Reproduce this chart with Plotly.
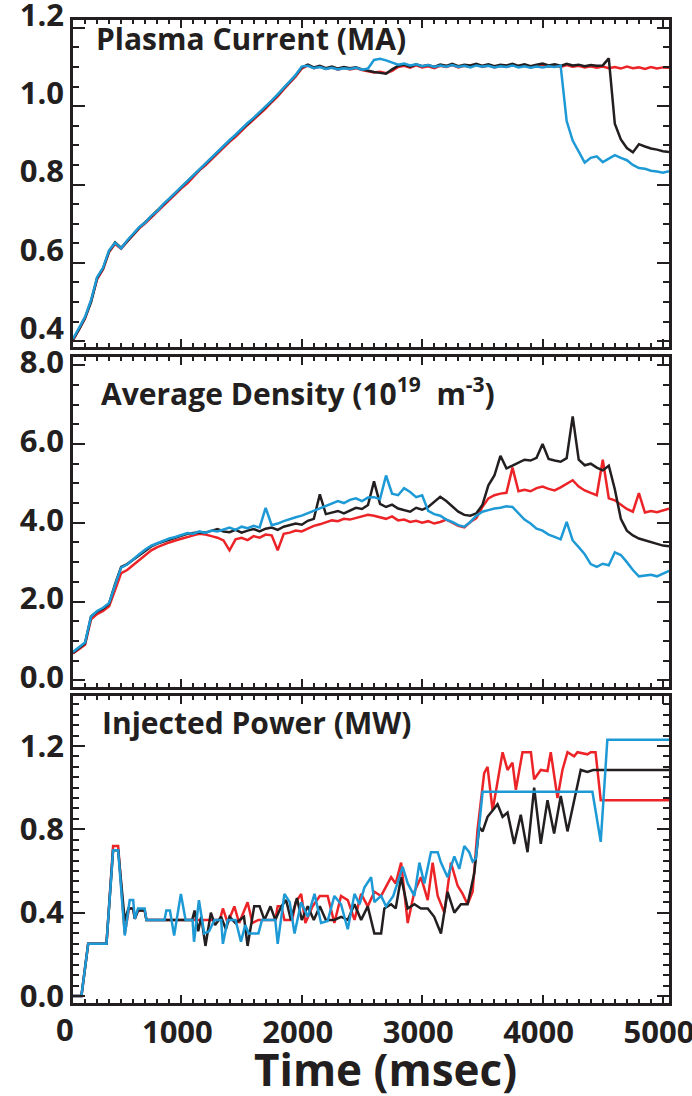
import plotly.graph_objects as go

# ---------------- data ----------------
T = list(range(100, 5051, 50))

IP_RED = [0.402, 0.432, 0.458, 0.503, 0.558, 0.584, 0.628, 0.648, 0.636, 0.654,
          0.670, 0.688, 0.701, 0.716, 0.729, 0.746, 0.760, 0.774, 0.790, 0.803,
          0.820, 0.836, 0.849, 0.864, 0.880, 0.893, 0.909, 0.922, 0.938, 0.952,
          0.966, 0.979, 0.994, 1.010, 1.025, 1.043, 1.060, 1.076, 1.096, 1.104,
          1.097, 1.101, 1.095, 1.099, 1.093, 1.098, 1.094, 1.097, 1.092, 1.089,
          1.086, 1.088, 1.084, 1.090, 1.100, 1.103, 1.098, 1.104, 1.099, 1.102,
          1.097, 1.103, 1.100, 1.105, 1.099, 1.103, 1.101, 1.106, 1.100, 1.104,
          1.099, 1.103, 1.100, 1.105, 1.101, 1.104, 1.099, 1.103, 1.106, 1.101,
          1.104, 1.100, 1.105, 1.101, 1.103, 1.099, 1.102, 1.098, 1.101, 1.097,
          1.100, 1.096, 1.101, 1.097, 1.099, 1.095, 1.100, 1.096, 1.099, 1.098]
IP_BLACK = [0.404, 0.430, 0.460, 0.500, 0.561, 0.586, 0.630, 0.652, 0.638, 0.656,
            0.672, 0.690, 0.704, 0.719, 0.733, 0.749, 0.763, 0.778, 0.793, 0.807,
            0.823, 0.839, 0.853, 0.867, 0.883, 0.897, 0.912, 0.926, 0.941, 0.956,
            0.969, 0.983, 0.997, 1.013, 1.029, 1.046, 1.063, 1.079, 1.099, 1.106,
            1.099, 1.103, 1.097, 1.101, 1.096, 1.100, 1.097, 1.099, 1.094, 1.090,
            1.087, 1.085, 1.083, 1.094, 1.103, 1.106, 1.101, 1.107, 1.102, 1.105,
            1.100, 1.106, 1.103, 1.108, 1.102, 1.106, 1.104, 1.108, 1.103, 1.107,
            1.102, 1.106, 1.104, 1.108, 1.103, 1.107, 1.102, 1.106, 1.109, 1.104,
            1.107, 1.103, 1.108, 1.104, 1.106, 1.102, 1.105, 1.103, 1.104, 1.122,
            0.955, 0.915, 0.893, 0.882, 0.903, 0.897, 0.892, 0.889, 0.885, 0.883]
IP_BLUE = [0.406, 0.434, 0.462, 0.505, 0.563, 0.588, 0.632, 0.651, 0.637, 0.657,
           0.673, 0.691, 0.703, 0.720, 0.732, 0.750, 0.764, 0.779, 0.795, 0.808,
           0.824, 0.840, 0.854, 0.869, 0.884, 0.898, 0.913, 0.927, 0.943, 0.957,
           0.970, 0.984, 0.999, 1.014, 1.030, 1.047, 1.064, 1.080, 1.101, 1.103,
           1.097, 1.100, 1.095, 1.098, 1.094, 1.097, 1.095, 1.098, 1.093, 1.096,
           1.118, 1.121, 1.117, 1.112, 1.106, 1.109, 1.104, 1.107, 1.102, 1.105,
           1.100, 1.104, 1.101, 1.105, 1.100, 1.103, 1.099, 1.104, 1.101, 1.103,
           1.099, 1.102, 1.100, 1.104, 1.099, 1.102, 1.098, 1.101, 1.099, 1.102,
           1.100, 1.103, 0.962, 0.912, 0.884, 0.856, 0.868, 0.872, 0.857, 0.866,
           0.875, 0.868, 0.862, 0.850, 0.842, 0.840, 0.835, 0.833, 0.830, 0.834]

NE_RED = [0.68, 0.80, 0.90, 1.55, 1.68, 1.76, 1.88, 2.30, 2.72, 2.80,
          2.92, 3.05, 3.18, 3.30, 3.38, 3.45, 3.50, 3.55, 3.60, 3.65,
          3.68, 3.72, 3.70, 3.66, 3.62, 3.55, 3.30, 3.58, 3.62, 3.56,
          3.66, 3.62, 3.70, 3.68, 3.30, 3.72, 3.75, 3.80, 3.78, 3.85,
          3.92, 3.96, 4.02, 4.06, 4.04, 4.10, 4.08, 4.12, 4.16, 4.20,
          4.18, 4.14, 4.10, 4.16, 4.06, 4.08, 4.02, 4.05, 4.00, 4.04,
          3.98, 4.02, 4.08, 4.00, 3.92, 3.88, 4.02, 4.12, 4.40, 4.62,
          4.70, 4.74, 4.76, 5.40, 4.80, 4.84, 4.80, 4.88, 4.92, 4.86,
          4.82, 4.90, 4.98, 5.08, 4.92, 4.82, 4.76, 4.70, 5.60, 4.62,
          4.57, 4.45, 4.35, 4.28, 4.75, 4.26, 4.30, 4.27, 4.32, 4.36]
NE_BLACK = [0.70, 0.82, 0.94, 1.62, 1.74, 1.82, 1.95, 2.45, 2.88, 2.95,
            3.06, 3.18, 3.30, 3.40, 3.47, 3.52, 3.58, 3.63, 3.68, 3.72,
            3.74, 3.76, 3.75, 3.80, 3.84, 3.78, 3.76, 3.82, 3.75, 3.80,
            3.84, 3.78, 3.85, 3.88, 3.82, 3.90, 3.94, 3.98, 3.95, 4.05,
            4.10, 4.72, 4.22, 4.26, 4.30, 4.24, 4.32, 4.38, 4.35, 4.45,
            5.05, 4.48, 4.40, 4.46, 4.36, 4.32, 4.28, 4.38, 4.33, 4.40,
            4.52, 4.66, 4.55, 4.42, 4.28, 4.20, 4.18, 4.24, 4.45, 4.95,
            5.20, 5.70, 5.38, 5.45, 5.52, 5.60, 5.58, 5.65, 6.00, 5.62,
            5.58, 5.55, 5.64, 6.70, 5.60, 5.46, 5.50, 5.40, 5.33, 5.45,
            4.85, 4.10, 3.80, 3.68, 3.60, 3.55, 3.50, 3.47, 3.42, 3.40]
NE_BLUE = [0.72, 0.84, 0.96, 1.62, 1.76, 1.84, 1.96, 2.42, 2.86, 2.94,
           3.08, 3.20, 3.32, 3.42, 3.48, 3.55, 3.60, 3.64, 3.70, 3.74,
           3.72, 3.78, 3.74, 3.80, 3.78, 3.84, 3.88, 3.82, 3.90, 3.86,
           3.92, 3.88, 4.38, 3.94, 3.98, 4.04, 4.10, 4.14, 4.18, 4.24,
           4.30, 4.36, 4.42, 4.48, 4.55, 4.50, 4.58, 4.62, 4.55, 4.64,
           4.65, 4.60, 5.20, 4.74, 4.70, 4.88, 4.78, 4.65, 4.70, 4.30,
           4.22, 4.18, 4.08, 4.02, 3.94, 3.90, 4.02, 4.18, 4.28, 4.32,
           4.36, 4.38, 4.42, 4.40, 4.25, 4.08, 3.98, 3.85, 3.80, 3.70,
           3.64, 3.58, 4.02, 3.55, 3.38, 3.20, 2.95, 2.88, 2.96, 2.92,
           3.25, 3.18, 3.00, 2.80, 2.64, 2.66, 2.68, 2.64, 2.72, 2.78]

P_RED_T = [100, 170, 226, 378, 433, 475, 530, 565, 600, 613, 640, 695, 710, 1320, 1345, 1385,
           1440, 1480, 1550, 1590, 1640, 1780, 1800, 1830, 1856, 1920, 1950, 1995, 2030, 2090,
           2150, 2215, 2271, 2326, 2382, 2438, 2493, 2548, 2603, 2659, 2742, 2780, 2825, 2880,
           2935, 2990, 3046, 3087, 3129, 3184, 3239, 3294, 3336, 3377, 3419, 3460, 3515, 3543,
           3585, 3626, 3668, 3709, 3750, 3778, 3833, 3903, 3930, 3985, 4041, 4068, 4124, 4165,
           4207, 4262, 4290, 4372, 4400, 4440, 4483, 5050]
P_RED = [0.0, 0.0, 0.25, 0.25, 0.72, 0.72, 0.30, 0.42, 0.42, 0.37, 0.41, 0.41, 0.365, 0.365, 0.42, 0.35,
         0.43, 0.35, 0.45, 0.35, 0.365, 0.365, 0.43, 0.43, 0.365, 0.365, 0.45, 0.49, 0.35, 0.43,
         0.48, 0.48, 0.35, 0.48, 0.46, 0.365, 0.49, 0.43, 0.50, 0.48, 0.57, 0.54, 0.64, 0.35,
         0.50, 0.57, 0.46, 0.64, 0.48, 0.40, 0.64, 0.53, 0.49, 0.44, 0.50, 0.80, 1.07, 1.10,
         0.89, 1.02, 1.17, 1.085, 1.12, 0.99, 1.17, 1.17, 1.04, 1.085, 1.08, 1.17, 0.95, 1.085,
         1.17, 1.15, 1.17, 1.16, 1.17, 1.17, 0.94, 0.94]
P_BLACK_T = [100, 170, 226, 378, 433, 475, 530, 560, 600, 613, 640, 695, 710, 1090, 1110, 1140,
             1165, 1200, 1245, 1280, 1330, 1370, 1400, 1450, 1520, 1550, 1605, 1650, 1690, 1740,
             1780, 1830, 1870, 1910, 1960, 2000, 2050, 2100, 2150, 2200, 2270, 2327, 2382, 2438,
             2493, 2548, 2603, 2659, 2686, 2742, 2780, 2825, 2880, 2935, 2990, 3046, 3100, 3156,
             3211, 3267, 3322, 3377, 3433, 3474, 3502, 3543, 3585, 3626, 3668, 3709, 3764, 3819,
             3875, 3930, 3985, 4041, 4096, 4151, 4207, 4262, 4317, 4372, 4420, 5050]
P_BLACK = [0.0, 0.0, 0.25, 0.25, 0.70, 0.70, 0.36, 0.42, 0.42, 0.37, 0.41, 0.41, 0.365, 0.365, 0.41, 0.31,
           0.38, 0.24, 0.40, 0.34, 0.38, 0.32, 0.38, 0.35, 0.38, 0.24, 0.43, 0.43, 0.365, 0.43,
           0.365, 0.43, 0.46, 0.365, 0.47, 0.365, 0.43, 0.365, 0.43, 0.365, 0.365, 0.38, 0.365, 0.44,
           0.365, 0.43, 0.30, 0.30, 0.42, 0.44, 0.42, 0.57, 0.42, 0.44, 0.42, 0.42, 0.38, 0.30,
           0.50, 0.40, 0.44, 0.44, 0.59, 0.81, 0.79, 0.86, 0.89, 0.92, 0.86, 0.88, 0.73, 0.87,
           0.69, 1.00, 0.73, 0.94, 0.78, 0.96, 0.79, 0.94, 1.085, 1.075, 1.085, 1.085]
P_BLUE_T = [100, 170, 226, 378, 433, 475, 530, 571, 600, 613, 640, 695, 710, 860, 875, 905,
            940, 996, 1035, 1093, 1105, 1146, 1190, 1230, 1275, 1330, 1345, 1385, 1450, 1495,
            1530, 1560, 1640, 1670, 1780, 1800, 1856, 1900, 1940, 1995, 2050, 2106, 2160, 2215,
            2271, 2326, 2382, 2438, 2480, 2520, 2576, 2603, 2659, 2700, 2760, 2838, 2880, 2935,
            2977, 3018, 3073, 3129, 3156, 3211, 3267, 3308, 3350, 3391, 3419, 3446, 3502, 4414,
            4483, 4538, 5050]
P_BLUE = [0.0, 0.0, 0.25, 0.25, 0.70, 0.70, 0.29, 0.46, 0.46, 0.37, 0.42, 0.42, 0.365, 0.365, 0.41, 0.41,
          0.29, 0.49, 0.365, 0.365, 0.26, 0.46, 0.30, 0.31, 0.365, 0.365, 0.25, 0.365, 0.365, 0.26,
          0.34, 0.30, 0.30, 0.365, 0.365, 0.25, 0.49, 0.45, 0.30, 0.45, 0.38, 0.49, 0.35, 0.36,
          0.48, 0.44, 0.32, 0.49, 0.44, 0.52, 0.57, 0.45, 0.48, 0.43, 0.48, 0.62, 0.54, 0.48,
          0.64, 0.54, 0.69, 0.69, 0.64, 0.57, 0.67, 0.61, 0.72, 0.69, 0.645, 0.66, 0.98, 0.98,
          0.74, 1.23, 1.23]

X_TICKS = [1000, 2000, 3000, 4000, 5000]
TITLES = ["Plasma Current (MA)",
          "Average Density (10<sup>19</sup>&nbsp; m<sup>-3</sup>)",
          "Injected Power (MW)"]
XTITLE = "Time (msec)"

RED = "#ec2327"
BLACK = "#231f20"
BLUE = "#1d9ad6"
FONT = "Open Sans"

fig = go.Figure()


def add(x, y, color, xa, ya):
    fig.add_trace(go.Scatter(x=x, y=y, mode="lines", line=dict(color=color, width=2.5),
                             xaxis=xa, yaxis=ya, showlegend=False, hoverinfo="skip"))


add(T, IP_RED, RED, "x", "y")
add(T, IP_BLACK, BLACK, "x", "y")
add(T, IP_BLUE, BLUE, "x", "y")
add(T, NE_RED, RED, "x2", "y2")
add(T, NE_BLACK, BLACK, "x2", "y2")
add(T, NE_BLUE, BLUE, "x2", "y2")
add(P_RED_T, P_RED, RED, "x3", "y3")
add(P_BLACK_T, P_BLACK, BLACK, "x3", "y3")
add(P_BLUE_T, P_BLUE, BLUE, "x3", "y3")

tickfont = dict(family=FONT, size=31, color=BLACK, weight=700)


def yminor(d):
    return dict(ticks="inside", ticklen=6, tickwidth=1.5, tickcolor=BLACK, dtick=d)


xminor = dict(ticks="inside", ticklen=4, tickwidth=1.5, tickcolor=BLACK, dtick=100, tick0=0)
xbase = dict(range=[100, 5050], tickvals=X_TICKS, ticks="inside", ticklen=8, tickwidth=2,
             tickcolor=BLACK, showline=True, linewidth=2.5, linecolor=BLACK, mirror="allticks",
             showgrid=False, zeroline=False, tickfont=tickfont, ticklabeloverflow="allow",
             automargin=False, minor=xminor)
ybase = dict(ticks="inside", ticklen=12, tickwidth=2, tickcolor=BLACK, showline=True,
             linewidth=2.5, linecolor=BLACK, mirror="allticks", showgrid=False, zeroline=False,
             tickfont=tickfont, tickformat=".1f", ticklabeloverflow="allow", automargin=False)

fig.update_layout(
    width=692, height=1096, margin=dict(l=73, r=23, t=20, b=93, autoexpand=False),
    paper_bgcolor="white", plot_bgcolor="white",
    xaxis=dict(xbase, anchor="y", domain=[0, 1], showticklabels=False),
    xaxis2=dict(xbase, anchor="y2", domain=[0, 1], showticklabels=False),
    xaxis3=dict(xbase, anchor="y3", domain=[0, 1], showticklabels=True, ticklabelshift=-4),
    yaxis=dict(ybase, anchor="x", domain=[0.6673, 1.0], range=[0.385, 1.22], dtick=0.2, tick0=0,
               ticklabelshift=-13, minor=yminor(0.05)),
    yaxis2=dict(ybase, anchor="x2", domain=[0.3215, 0.6572], range=[-0.17, 8.21], dtick=2, tick0=0,
                ticklabelshift=-3, minor=yminor(0.5)),
    yaxis3=dict(ybase, anchor="x3", domain=[0, 0.3123], range=[-0.034, 1.44], dtick=0.4, tick0=0,
                minor=yminor(0.05)),
)

title_font = dict(family=FONT, size=30, color=BLACK, weight=700)
for txt, xp, yp in [(TITLES[0], 0.0353, 0.9816), (TITLES[1], 0.0437, 0.622), (TITLES[2], 0.0453, 0.2858)]:
    fig.add_annotation(text=txt, xref="paper", yref="paper", x=xp, y=yp, xanchor="left",
                       yanchor="middle", showarrow=False, font=title_font)

fig.add_annotation(text=XTITLE, xref="paper", yref="paper", x=0.5243, y=-0.0672, xanchor="center",
                   yanchor="middle", showarrow=False,
                   font=dict(family=FONT, size=44, color=BLACK, weight=700))
fig.add_annotation(text="0", xref="paper", yref="paper", x=-0.0134, y=-0.02645, xanchor="center",
                   yanchor="middle", showarrow=False, font=tickfont)

fig.write_html("out.html")
